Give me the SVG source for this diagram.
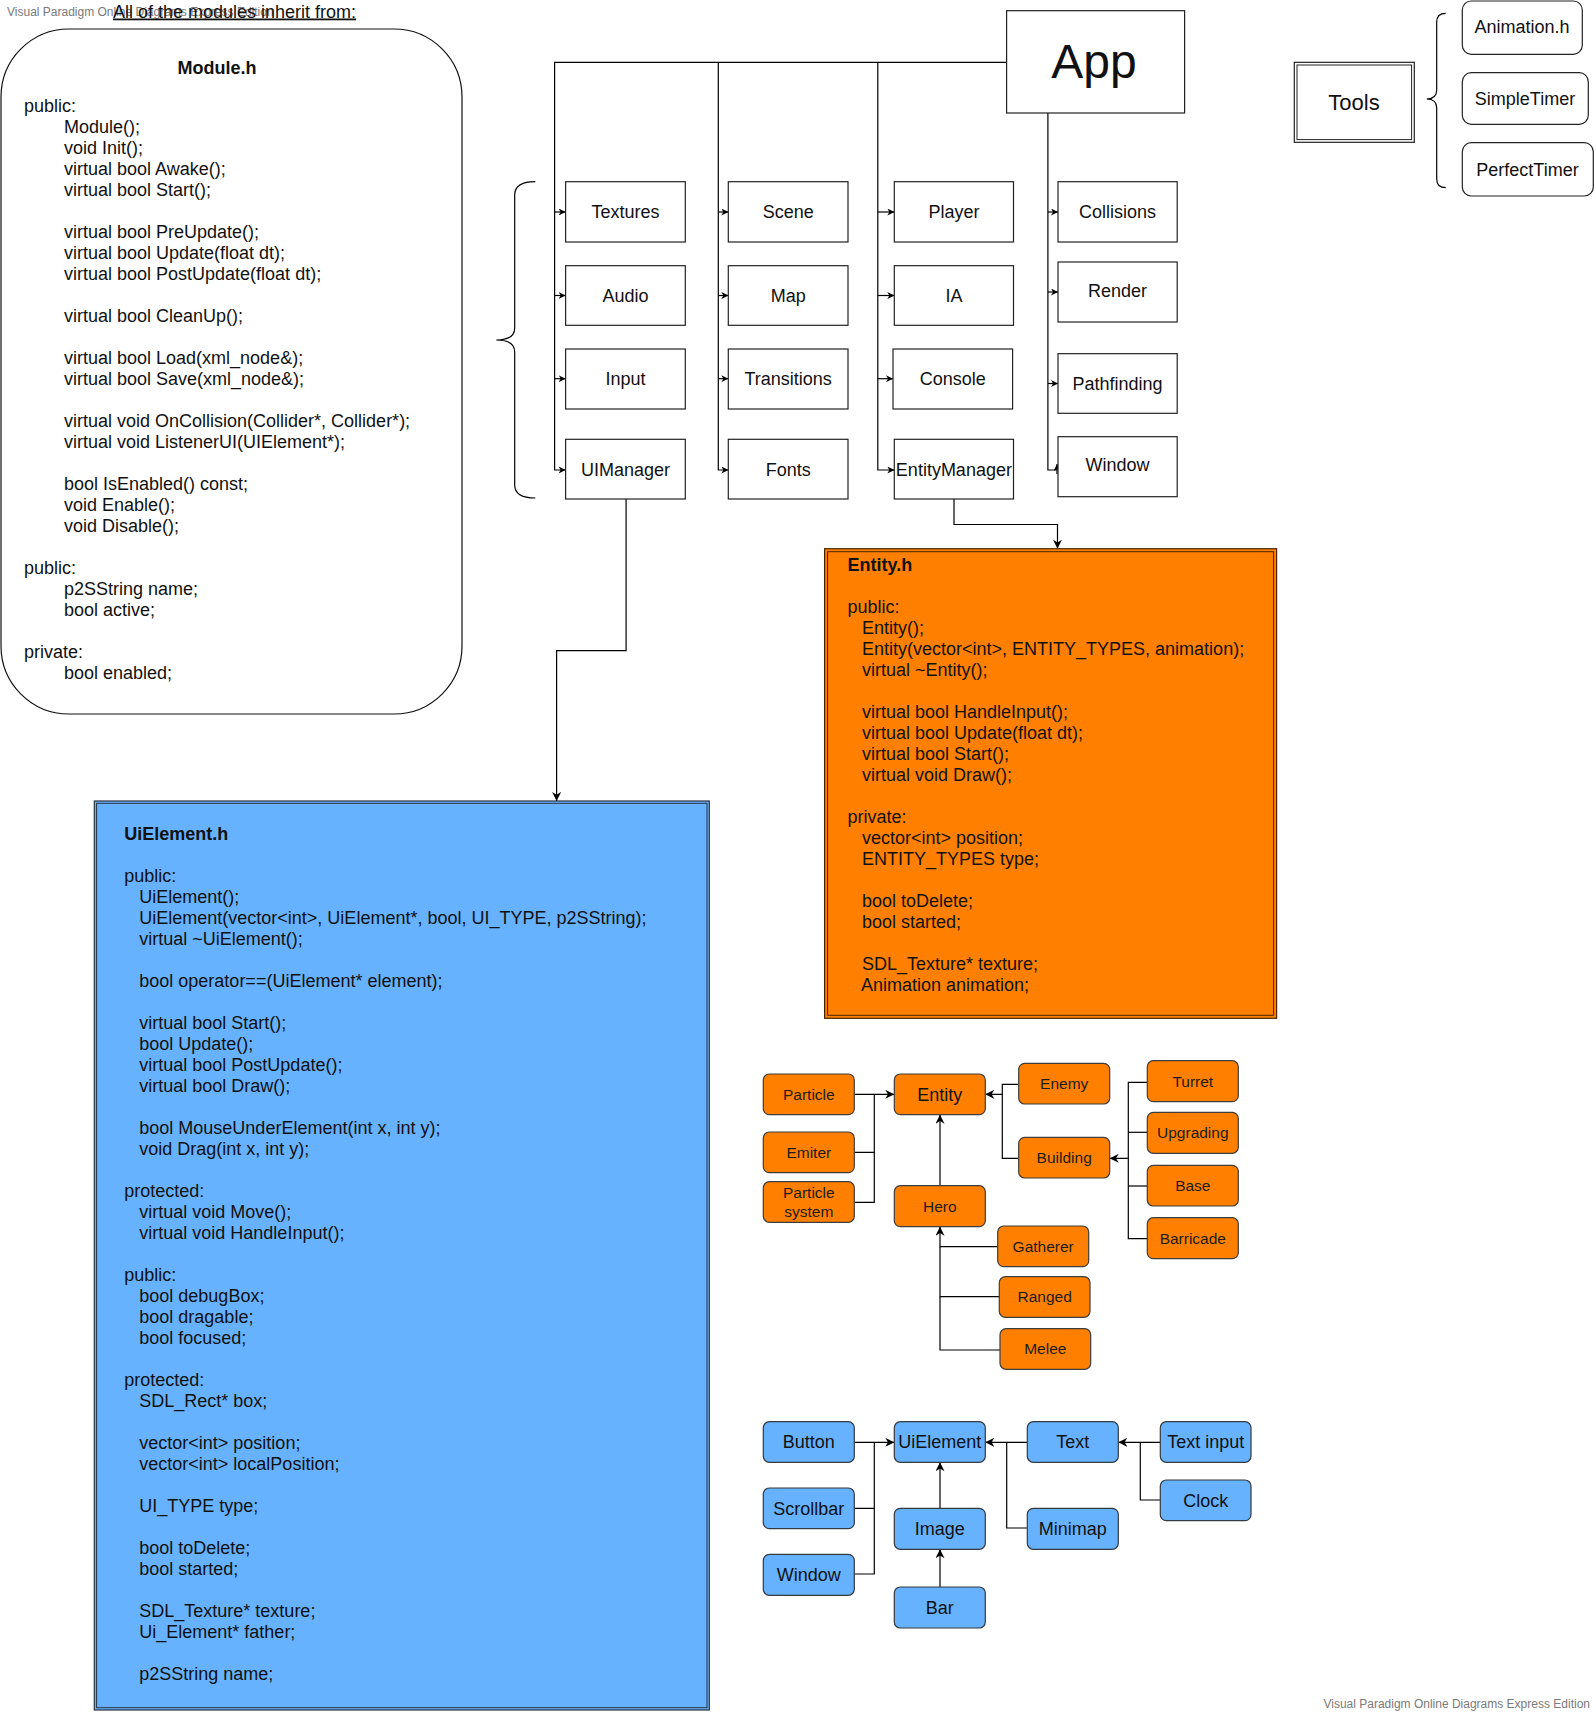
<svg xmlns="http://www.w3.org/2000/svg" width="1596" height="1715" viewBox="0 0 1596 1715">
<style>
text{font-family:"Liberation Sans",Arial,sans-serif;fill:#111}
.t18{font-size:18px}
.t15{font-size:15.5px;fill:#1c1c1c}
.c{text-anchor:middle}
.b{font-weight:bold}
.box{fill:#fff;stroke:#222;stroke-width:1.2}
.rbox{fill:#fff;stroke:#222;stroke-width:1.2}
.ob{fill:#FF8000;stroke:#3d3d3d;stroke-width:1.2}
.bb{fill:#66B2FF;stroke:#36393d;stroke-width:1.2}
.ln{fill:none;stroke:#000;stroke-width:1.2}
.wm{font-size:12px;fill:#7a7a7a}
</style>
<defs>
<marker id="a" markerUnits="userSpaceOnUse" markerWidth="9" markerHeight="9" viewBox="0 0 10 10" refX="10" refY="5" orient="auto"><path d="M0,0 L10,5 L0,10 L3,5 Z" fill="#000"/></marker>
<marker id="s" markerUnits="userSpaceOnUse" markerWidth="7" markerHeight="7" viewBox="0 0 10 10" refX="10" refY="5" orient="auto"><path d="M0,0 L10,5 L0,10 L3,5 Z" fill="#000"/></marker>
</defs>
<rect width="1596" height="1715" fill="#fff"/>

<text class="wm" x="7" y="16">Visual Paradigm Online Diagrams Express Edition</text>
<text class="t18" x="113" y="17.5" text-decoration="underline">All of the modules inherit from:</text>

<g id="module">
<rect x="1" y="29" width="461" height="685" rx="68" ry="68" fill="#fff" stroke="#111" stroke-width="1.2"/>
<text class="t18 c b" x="217" y="73.5">Module.h</text>
<text class="t18">
<tspan x="24" y="111.5">public:</tspan>
<tspan x="64" y="132.5">Module();</tspan>
<tspan x="64" y="153.5">void Init();</tspan>
<tspan x="64" y="174.5">virtual bool Awake();</tspan>
<tspan x="64" y="195.5">virtual bool Start();</tspan>
<tspan x="64" y="237.5">virtual bool PreUpdate();</tspan>
<tspan x="64" y="258.5">virtual bool Update(float dt);</tspan>
<tspan x="64" y="279.5">virtual bool PostUpdate(float dt);</tspan>
<tspan x="64" y="321.5">virtual bool CleanUp();</tspan>
<tspan x="64" y="363.5">virtual bool Load(xml_node&amp;);</tspan>
<tspan x="64" y="384.5">virtual bool Save(xml_node&amp;);</tspan>
<tspan x="64" y="426.5">virtual void OnCollision(Collider*, Collider*);</tspan>
<tspan x="64" y="447.5">virtual void ListenerUI(UIElement*);</tspan>
<tspan x="64" y="489.5">bool IsEnabled() const;</tspan>
<tspan x="64" y="510.5">void Enable();</tspan>
<tspan x="64" y="531.5">void Disable();</tspan>
<tspan x="24" y="573.5">public:</tspan>
<tspan x="64" y="594.5">p2SString name;</tspan>
<tspan x="64" y="615.5">bool active;</tspan>
<tspan x="24" y="657.5">private:</tspan>
<tspan x="64" y="678.5">bool enabled;</tspan>
</text>
</g>

<g id="connectors">
<path class="ln" d="M1006.6,62.3 H554.6 V470 H565.6" marker-end="url(#s)"/>
<path class="ln" d="M554.6,212 H565.6" marker-end="url(#s)"/>
<path class="ln" d="M554.6,295.5 H565.6" marker-end="url(#s)"/>
<path class="ln" d="M554.6,378.7 H565.6" marker-end="url(#s)"/>
<path class="ln" d="M718.3,62.3 V470 H728.3" marker-end="url(#s)"/>
<path class="ln" d="M718.3,212 H728.3" marker-end="url(#s)"/>
<path class="ln" d="M718.3,295.5 H728.3" marker-end="url(#s)"/>
<path class="ln" d="M718.3,378.7 H728.3" marker-end="url(#s)"/>
<path class="ln" d="M877.8,62.3 V470 H894.3" marker-end="url(#s)"/>
<path class="ln" d="M877.8,212 H894.3" marker-end="url(#s)"/>
<path class="ln" d="M877.8,295.5 H894.3" marker-end="url(#s)"/>
<path class="ln" d="M877.8,378.7 H893" marker-end="url(#s)"/>
<path class="ln" d="M1047.9,113 V470 H1057"/>
<path class="ln" d="M1057,474 V464" marker-end="url(#s)"/>
<path class="ln" d="M1047.9,212 H1058" marker-end="url(#s)"/>
<path class="ln" d="M1047.9,292 H1058" marker-end="url(#s)"/>
<path class="ln" d="M1047.9,383.5 H1058" marker-end="url(#s)"/>
<path class="ln" d="M626.1,499 V650.6 H556.6 V801" marker-end="url(#a)"/>
<path class="ln" d="M954,499 V524.5 H1057.5 V548.7" marker-end="url(#a)"/>
<path class="ln" d="M854.3,1094.3 H894.3" marker-end="url(#a)"/>
<path class="ln" d="M854.3,1152.3 H874.3 V1094.3"/>
<path class="ln" d="M854.3,1202.3 H874.3 V1152.3"/>
<path class="ln" d="M1018.7,1084.3 H1002.3 V1094.3 H985.3" marker-end="url(#a)"/>
<path class="ln" d="M1018.7,1158.3 H1002.3 V1094.3"/>
<path class="ln" d="M1147.3,1082.3 H1128.3 V1158.3 H1109.7" marker-end="url(#a)"/>
<path class="ln" d="M1147.3,1132.3 H1128.3"/>
<path class="ln" d="M1147.3,1186 H1128.3"/>
<path class="ln" d="M1147.3,1238.7 H1128.3 V1158.3"/>
<path class="ln" d="M940,1185.7 V1114.7" marker-end="url(#a)"/>
<path class="ln" d="M997.7,1246.7 H940 V1226.7" marker-end="url(#a)"/>
<path class="ln" d="M999.3,1296.7 H940 V1246.7"/>
<path class="ln" d="M1000,1350 H940 V1296.7"/>
<path class="ln" d="M854.3,1442.3 H894.3" marker-end="url(#a)"/>
<path class="ln" d="M854.3,1508.3 H874.3 V1442.3"/>
<path class="ln" d="M854.3,1574 H874.3 V1508.3"/>
<path class="ln" d="M1027.3,1442.3 H985.3" marker-end="url(#a)"/>
<path class="ln" d="M1027.3,1528 H1006.7 V1442.3"/>
<path class="ln" d="M1160.3,1442.3 H1118.3" marker-end="url(#a)"/>
<path class="ln" d="M1160.3,1500 H1140.3 V1442.3"/>
<path class="ln" d="M940,1508.3 V1462.3" marker-end="url(#a)"/>
<path class="ln" d="M940,1587 V1549.3" marker-end="url(#a)"/>
</g>

<g id="brace-modules"><path class="ln" d="M535.3,181.7 Q514.7,181.7 514.7,195 V328 Q514.7,340 496.3,340 Q514.7,340 514.7,352 V485 Q514.7,498 535.3,498"/></g>
<g id="brace-tools"><path class="ln" d="M1445.7,13.3 Q1436.7,13.3 1436.7,22 V90 Q1436.7,99 1426.7,99 Q1436.7,99 1436.7,108 V179 Q1436.7,187.7 1445.7,187.7"/></g>

<g id="app"><rect class="box" x="1006.6" y="10.7" width="178" height="102.3"/><text class="c" x="1094" y="78.3" style="font-size:48px">App</text></g>

<g id="tools"><rect class="box" x="1294.3" y="62.3" width="120" height="80"/><rect x="1297" y="65" width="114.6" height="74.6" fill="none" stroke="#222" stroke-width="1"/><text class="c" x="1354" y="110" style="font-size:22px">Tools</text></g>
<g id="animation"><rect class="rbox" x="1462.3" y="1" width="120" height="53.3" rx="9"/><text class="t18 c" x="1522" y="33">Animation.h</text></g>
<g id="simpletimer"><rect class="rbox" x="1462.3" y="72.7" width="126" height="51.6" rx="9"/><text class="t18 c" x="1525" y="105">SimpleTimer</text></g>
<g id="perfecttimer"><rect class="rbox" x="1462.3" y="142.7" width="131" height="53.3" rx="9"/><text class="t18 c" x="1527.5" y="175.5">PerfectTimer</text></g>

<g id="textures"><rect class="box" x="565.6" y="181.7" width="119.7" height="60.3"/><text class="t18 c" x="625.5" y="218.3">Textures</text></g>
<g id="audio"><rect class="box" x="565.6" y="265.7" width="119.7" height="59.6"/><text class="t18 c" x="625.5" y="301.8">Audio</text></g>
<g id="input"><rect class="box" x="565.6" y="349" width="119.7" height="60"/><text class="t18 c" x="625.5" y="385.3">Input</text></g>
<g id="uimanager"><rect class="box" x="565.6" y="439.3" width="119.7" height="59.7"/><text class="t18 c" x="625.5" y="475.5">UIManager</text></g>

<g id="scene"><rect class="box" x="728.3" y="181.7" width="119.7" height="60.3"/><text class="t18 c" x="788.2" y="218.3">Scene</text></g>
<g id="map"><rect class="box" x="728.3" y="265.7" width="119.7" height="59.6"/><text class="t18 c" x="788.2" y="301.8">Map</text></g>
<g id="transitions"><rect class="box" x="728.3" y="349" width="119.7" height="60"/><text class="t18 c" x="788.2" y="385.3">Transitions</text></g>
<g id="fonts"><rect class="box" x="728.3" y="439.3" width="119.7" height="59.7"/><text class="t18 c" x="788.2" y="475.5">Fonts</text></g>

<g id="player"><rect class="box" x="894.3" y="181.7" width="119.2" height="60.3"/><text class="t18 c" x="953.9" y="218.3">Player</text></g>
<g id="ia"><rect class="box" x="894.3" y="265.7" width="119.2" height="59.6"/><text class="t18 c" x="953.9" y="301.8">IA</text></g>
<g id="console"><rect class="box" x="893" y="349" width="119.6" height="60"/><text class="t18 c" x="952.8" y="385.3">Console</text></g>
<g id="entitymanager"><rect class="box" x="894.3" y="439.3" width="119.2" height="59.7"/><text class="t18 c" x="953.9" y="475.5">EntityManager</text></g>

<g id="collisions"><rect class="box" x="1058" y="181.7" width="119.2" height="60.3"/><text class="t18 c" x="1117.6" y="218.3">Collisions</text></g>
<g id="render"><rect class="box" x="1058" y="262" width="119.2" height="60"/><text class="t18 c" x="1117.6" y="297.3">Render</text></g>
<g id="pathfinding"><rect class="box" x="1058" y="353.7" width="119.2" height="59.6"/><text class="t18 c" x="1117.6" y="389.8">Pathfinding</text></g>
<g id="window"><rect class="box" x="1058" y="436.7" width="119.2" height="60"/><text class="t18 c" x="1117.6" y="471.3">Window</text></g>

<g id="entity-h">
<rect x="824.6" y="548.7" width="452" height="469.6" fill="#FF8000" stroke="#4a2500" stroke-width="1.2"/>
<rect x="827.6" y="551.7" width="446" height="463.6" fill="none" stroke="#4a2500" stroke-width="1"/>
<text class="t18 b" x="847.5" y="570.7">Entity.h</text>
<text class="t18">
<tspan x="847.5" y="612.7">public:</tspan>
<tspan x="862" y="633.7">Entity();</tspan>
<tspan x="862" y="654.7">Entity(vector&lt;int&gt;, ENTITY_TYPES, animation);</tspan>
<tspan x="862" y="675.7">virtual ~Entity();</tspan>
<tspan x="862" y="717.7">virtual bool HandleInput();</tspan>
<tspan x="862" y="738.7">virtual bool Update(float dt);</tspan>
<tspan x="862" y="759.7">virtual bool Start();</tspan>
<tspan x="862" y="780.7">virtual void Draw();</tspan>
<tspan x="847.5" y="822.7">private:</tspan>
<tspan x="862" y="843.7">vector&lt;int&gt; position;</tspan>
<tspan x="862" y="864.7">ENTITY_TYPES type;</tspan>
<tspan x="862" y="906.7">bool toDelete;</tspan>
<tspan x="862" y="927.7">bool started;</tspan>
<tspan x="862" y="969.7">SDL_Texture* texture;</tspan>
<tspan x="861" y="990.7">Animation animation;</tspan>
</text>
</g>

<g id="uielement-h">
<rect x="94.3" y="801" width="615" height="909" fill="#66B2FF" stroke="#2a3340" stroke-width="1.2"/>
<rect x="96.6" y="803.3" width="610.4" height="904.4" fill="none" stroke="#2a3340" stroke-width="1"/>
<text class="t18 b" x="124.3" y="839.8">UiElement.h</text>
<text class="t18">
<tspan x="124.3" y="881.8">public:</tspan>
<tspan x="139.3" y="902.8">UiElement();</tspan>
<tspan x="139.3" y="923.8">UiElement(vector&lt;int&gt;, UiElement*, bool, UI_TYPE, p2SString);</tspan>
<tspan x="139.3" y="944.8">virtual ~UiElement();</tspan>
<tspan x="139.3" y="986.8">bool operator==(UiElement* element);</tspan>
<tspan x="139.3" y="1028.8">virtual bool Start();</tspan>
<tspan x="139.3" y="1049.8">bool Update();</tspan>
<tspan x="139.3" y="1070.8">virtual bool PostUpdate();</tspan>
<tspan x="139.3" y="1091.8">virtual bool Draw();</tspan>
<tspan x="139.3" y="1133.8">bool MouseUnderElement(int x, int y);</tspan>
<tspan x="139.3" y="1154.8">void Drag(int x, int y);</tspan>
<tspan x="124.3" y="1196.8">protected:</tspan>
<tspan x="139.3" y="1217.8">virtual void Move();</tspan>
<tspan x="139.3" y="1238.8">virtual void HandleInput();</tspan>
<tspan x="124.3" y="1280.8">public:</tspan>
<tspan x="139.3" y="1301.8">bool debugBox;</tspan>
<tspan x="139.3" y="1322.8">bool dragable;</tspan>
<tspan x="139.3" y="1343.8">bool focused;</tspan>
<tspan x="124.3" y="1385.8">protected:</tspan>
<tspan x="139.3" y="1406.8">SDL_Rect* box;</tspan>
<tspan x="139.3" y="1448.8">vector&lt;int&gt; position;</tspan>
<tspan x="139.3" y="1469.8">vector&lt;int&gt; localPosition;</tspan>
<tspan x="139.3" y="1511.8">UI_TYPE type;</tspan>
<tspan x="139.3" y="1553.8">bool toDelete;</tspan>
<tspan x="139.3" y="1574.8">bool started;</tspan>
<tspan x="139.3" y="1616.8">SDL_Texture* texture;</tspan>
<tspan x="139.3" y="1637.8">Ui_Element* father;</tspan>
<tspan x="139.3" y="1679.8">p2SString name;</tspan>
</text>
</g>

<g id="particle"><rect class="ob" x="763.3" y="1074" width="91" height="40.7" rx="6"/><text class="t15 c" x="808.8" y="1099.7">Particle</text></g>
<g id="emiter"><rect class="ob" x="763.3" y="1132" width="91" height="40.7" rx="6"/><text class="t15 c" x="808.8" y="1157.7">Emiter</text></g>
<g id="particle-system"><rect class="ob" x="763.3" y="1181.7" width="91" height="40.6" rx="6"/><text class="t15 c" x="808.8"><tspan x="808.8" y="1197.7">Particle</tspan><tspan x="808.8" y="1217">system</tspan></text></g>
<g id="entity"><rect class="ob" x="894.3" y="1074" width="91" height="40.7" rx="6"/><text class="t18 c" x="939.8" y="1100.6">Entity</text></g>
<g id="enemy"><rect class="ob" x="1018.7" y="1063.3" width="91" height="40.7" rx="6"/><text class="t15 c" x="1064.2" y="1089.1">Enemy</text></g>
<g id="building"><rect class="ob" x="1018.7" y="1137.3" width="91" height="40.7" rx="6"/><text class="t15 c" x="1064.2" y="1163.1">Building</text></g>
<g id="turret"><rect class="ob" x="1147.3" y="1060.7" width="91" height="41" rx="6"/><text class="t15 c" x="1192.8" y="1086.6">Turret</text></g>
<g id="upgrading"><rect class="ob" x="1147.3" y="1112.3" width="91" height="41" rx="6"/><text class="t15 c" x="1192.8" y="1138.2">Upgrading</text></g>
<g id="base"><rect class="ob" x="1147.3" y="1165.3" width="91" height="40.7" rx="6"/><text class="t15 c" x="1192.8" y="1191.1">Base</text></g>
<g id="barricade"><rect class="ob" x="1147.3" y="1217.7" width="91" height="41" rx="6"/><text class="t15 c" x="1192.8" y="1243.6">Barricade</text></g>
<g id="hero"><rect class="ob" x="894.3" y="1185.7" width="91" height="41" rx="6"/><text class="t15 c" x="939.8" y="1211.6">Hero</text></g>
<g id="gatherer"><rect class="ob" x="997.7" y="1226" width="91" height="40.7" rx="6"/><text class="t15 c" x="1043.2" y="1251.7">Gatherer</text></g>
<g id="ranged"><rect class="ob" x="999.3" y="1276.7" width="90.7" height="40.6" rx="6"/><text class="t15 c" x="1044.7" y="1302.4">Ranged</text></g>
<g id="melee"><rect class="ob" x="1000" y="1328.7" width="90.7" height="40.6" rx="6"/><text class="t15 c" x="1045.3" y="1354.4">Melee</text></g>

<g id="button"><rect class="bb" x="763.3" y="1421.7" width="91" height="40.6" rx="6"/><text class="t18 c" x="808.8" y="1448.3">Button</text></g>
<g id="scrollbar"><rect class="bb" x="763.3" y="1488" width="91" height="40.7" rx="6"/><text class="t18 c" x="808.8" y="1514.6">Scrollbar</text></g>
<g id="ui-window"><rect class="bb" x="763.3" y="1554.3" width="91" height="41" rx="6"/><text class="t18 c" x="808.8" y="1581.1">Window</text></g>
<g id="uielement"><rect class="bb" x="894.3" y="1421.7" width="91" height="40.6" rx="6"/><text class="t18 c" x="939.8" y="1448.3">UiElement</text></g>
<g id="image"><rect class="bb" x="894.3" y="1508.3" width="91" height="41" rx="6"/><text class="t18 c" x="939.8" y="1535.1">Image</text></g>
<g id="bar"><rect class="bb" x="894.3" y="1587" width="91" height="41" rx="6"/><text class="t18 c" x="939.8" y="1613.8">Bar</text></g>
<g id="text"><rect class="bb" x="1027.3" y="1421.7" width="91" height="40.6" rx="6"/><text class="t18 c" x="1072.8" y="1448.3">Text</text></g>
<g id="minimap"><rect class="bb" x="1027.3" y="1508.3" width="91" height="41" rx="6"/><text class="t18 c" x="1072.8" y="1535.1">Minimap</text></g>
<g id="text-input"><rect class="bb" x="1160.3" y="1421.7" width="90.7" height="40.6" rx="6"/><text class="t18 c" x="1205.7" y="1448.3">Text input</text></g>
<g id="clock"><rect class="bb" x="1160.3" y="1480" width="90.7" height="40.7" rx="6"/><text class="t18 c" x="1205.7" y="1506.6">Clock</text></g>

<text class="wm" x="1590" y="1708" text-anchor="end">Visual Paradigm Online Diagrams Express Edition</text>
</svg>
